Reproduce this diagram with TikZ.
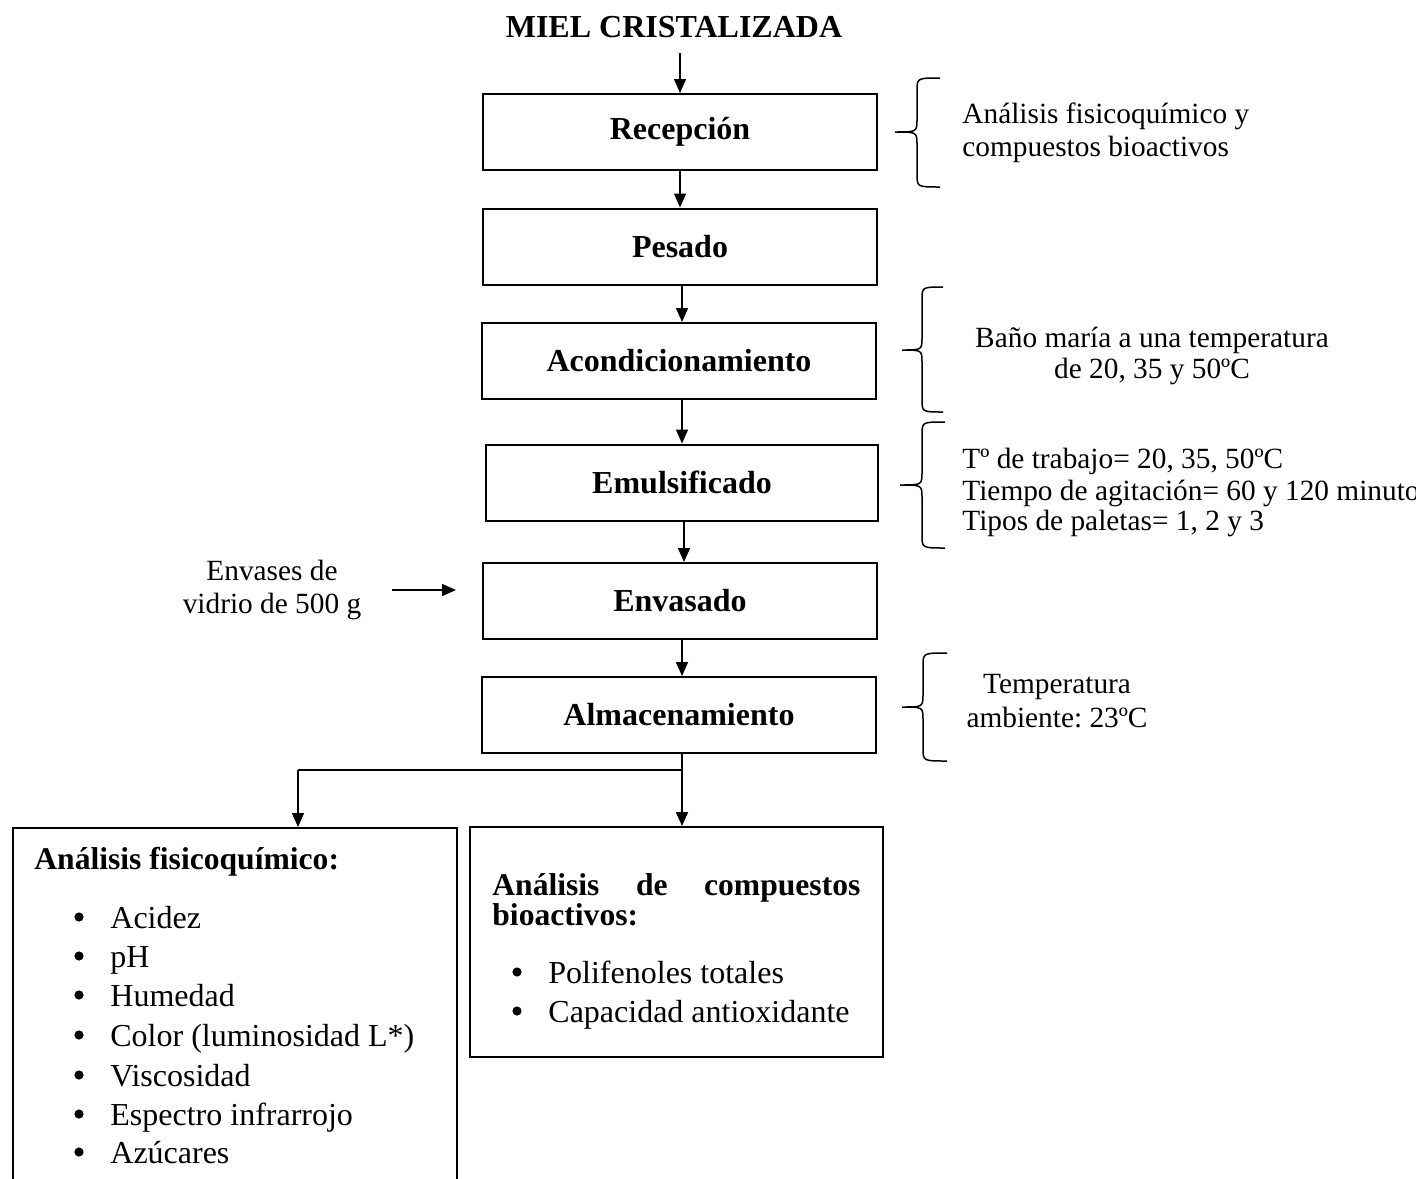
\documentclass[tikz,border=0pt]{standalone}
\usepackage{fontspec}
\setmainfont{Liberation Serif}
\usetikzlibrary{arrows.meta}
\frenchspacing
\newcommand\mybrace[6]{%
  \draw[brc] (#1,#4) .. controls (#2,#4) .. (#2,#4+13) -- (#2,#5-13)
    .. controls (#2,#5) .. (#3,#5) .. controls (#2,#5) .. (#2,#5+13)
    -- (#2,#6-13) .. controls (#2,#6) .. (#1,#6);}
\begin{document}
\begin{tikzpicture}[x=0.5pt,y=-0.5pt,
  stepbox/.style={draw,line width=1pt,minimum width=197pt,minimum height=38pt,
    inner sep=0pt,font=\fontsize{16}{19}\selectfont\bfseries},
  bigbox/.style={draw,line width=1pt,inner sep=0pt},
  arr/.style={line width=0.75pt,-{Triangle[length=7pt,width=6pt]}},
  brc/.style={line width=0.75pt},
  note/.style={inner sep=0pt,font=\fontsize{14.67}{17}\selectfont\frenchspacing},
  body/.style={inner sep=0pt,anchor=base west,font=\fontsize{16}{19}\selectfont},
  bul/.style={circle,fill,inner sep=0pt,minimum size=4.6pt},
  head/.style={inner sep=0pt,anchor=base west,font=\fontsize{15.8}{19}\selectfont\bfseries}]
\useasboundingbox (0,0) rectangle (1416,1178);
\clip (0,0) rectangle (1416,1178);

% title
\node[inner sep=0pt,anchor=base,font=\fontsize{16}{19}\selectfont\bfseries] (title) at (674,37) {MIEL CRISTALIZADA};

% process boxes
\node[stepbox] (rec) at (680,132) {Recepción};
\node[stepbox] (pes) at (680,246.5) {Pesado};
\node[stepbox] (aco) at (679,361) {Acondicionamiento};
\node[stepbox,minimum width=196pt] (emu) at (682,482.5) {Emulsificado};
\node[stepbox] (env) at (680,601) {Envasado};
\node[stepbox] (alm) at (679,715) {Almacenamiento};

% arrows
\draw[arr] ([yshift=-7.5pt]title.south -| rec.north) -- (rec.north);
\draw[arr] (rec.south) -- (rec.south |- pes.north);
\draw[arr] ([xshift=1pt]pes.south) -- ([xshift=1pt]pes.south |- aco.north);
\draw[arr] ([xshift=1.5pt]aco.south) -- ([xshift=1.5pt]aco.south |- emu.north);
\draw[arr] ([xshift=1pt]emu.south) -- ([xshift=1pt]emu.south |- env.north);
\draw[arr] ([xshift=1pt]env.south) -- ([xshift=1pt]env.south |- alm.north);

% input
\coordinate (ea) at (392,590);
\coordinate (eb) at (456,590);
\draw[arr] (ea) -- (eb);
\node[note,anchor=base] (in1) at (272,580) {Envases de};
\node[note,anchor=base] (in2) at (272,613) {vidrio de 500 g};

% bottom boxes
\node[bigbox,minimum width=222pt,minimum height=186pt] (ana1) at (235,1014) {};
\node[bigbox,minimum width=206.5pt,minimum height=115pt] (ana2) at (676.5,942) {};

% branch
\coordinate (jn) at ([xshift=1.5pt]alm.south |- 0,770);
\coordinate (bl) at (298,770);
\draw[line width=0.75pt] ([xshift=1.5pt]alm.south) -- (jn) -- (bl);
\draw[arr] (bl) -- (bl |- ana1.north);
\draw[arr] (jn) -- (jn |- ana2.north);

% left box content
\node[head] (h1) at (34,869) {Análisis fisicoquímico:};
\node[bul] (b1) at (79,917) {};
\node[body] (t1) at (110,928) {Acidez};
\node[bul] (b2) at (79,956) {};
\node[body] (t2) at (110,967) {pH};
\node[bul] (b3) at (79,995) {};
\node[body] (t3) at (110,1006) {Humedad};
\node[bul] (b4) at (79,1035) {};
\node[body] (t4) at (110,1046) {Color (luminosidad L*)};
\node[bul] (b5) at (79,1075) {};
\node[body] (t5) at (110,1086) {Viscosidad};
\node[bul] (b6) at (79,1114) {};
\node[body] (t6) at (110,1125) {Espectro infrarrojo};
\node[bul] (b7) at (79,1152) {};
\node[body] (t7) at (110,1163) {Azúcares};

% right box content
\node[head] (h2a) at (492,895) {\makebox[184pt][s]{Análisis de compuestos}};
\node[head] (h2b) at (492,925) {bioactivos:};
\node[bul] (c1) at (517,972) {};
\node[body] (u1) at (548,983) {Polifenoles totales};
\node[bul] (c2) at (517,1011) {};
\node[body] (u2) at (548,1022) {Capacidad antioxidante};

% braces
\mybrace{940}{917}{895}{78}{132}{187}
\mybrace{943}{922}{902}{287}{350}{412}
\mybrace{945}{922}{900}{422}{485}{548}
\mybrace{947}{923}{902}{653}{707}{761}

% side notes
\node[note,anchor=base west] (n1a) at (962,123) {Análisis fisicoquímico y};
\node[note,anchor=base west] (n1b) at (962,156) {compuestos bioactivos};
\node[note,anchor=base] (n2a) at (1152,347) {Baño maría a una temperatura};
\node[note,anchor=base] (n2b) at (1152,378) {de 20, 35 y 50ºC};
\node[note,anchor=base west] (n3a) at (962,468) {Tº de trabajo= 20, 35, 50ºC};
\node[note,anchor=base west] (n3b) at (962,500) {Tiempo de agitación= 60 y 120 minuto};
\node[note,anchor=base west] (n3c) at (962,530) {Tipos de paletas= 1, 2 y 3};
\node[note,anchor=base] (n4a) at (1057,693) {Temperatura};
\node[note,anchor=base] (n4b) at (1057,727) {ambiente: 23ºC};
\end{tikzpicture}
\end{document}
